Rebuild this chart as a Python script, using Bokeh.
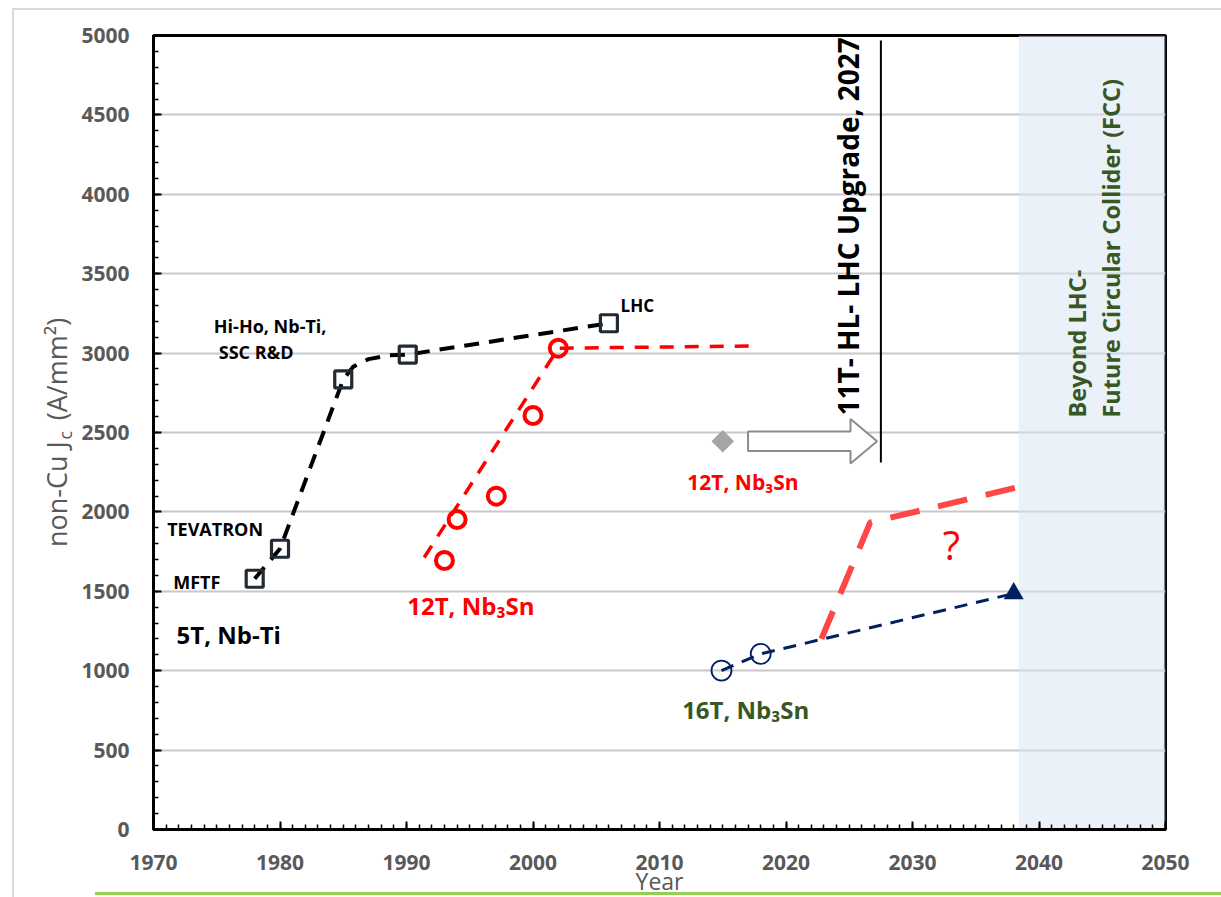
import math
from bokeh.plotting import figure
from bokeh.models import Range1d, SingleIntervalTicker, Label
from bokeh.embed import file_html
from bokeh.resources import INLINE

# ---------------- data ----------------
# Nb-Ti (5 T) magnets
nbti_names = ["MFTF", "TEVATRON", "", "Hi-Ho / SSC R&D", "LHC"]
nbti_years = [1978.0, 1980.0, 1985.0, 1990.1, 2006.0]
nbti_jc = [1579, 1768, 2834, 2991, 3188]
nbti_trend_years = [1978.0, 1980.0, 1985.0, 1985.8, 1987.0, 1988.5, 1990.1, 2006.0]
nbti_trend_jc = [1579, 1768, 2834, 2915, 2962, 2985, 2991, 3188]

# Nb3Sn (12 T) R&D
nb3sn12_years = [1993.0, 1994.0, 1997.1, 2000.0, 2002.0]
nb3sn12_jc = [1694, 1952, 2099, 2607, 3031]
nb3sn12_trend_years = [1991.4, 2002.0, 2017.8]
nb3sn12_trend_jc = [1713, 3031, 3045]

# HL-LHC 11 T point
hl_years = [2015.0]
hl_jc = [2445]

# Nb3Sn (16 T) for FCC
nb3sn16_years = [2014.9, 2018.0]
nb3sn16_jc = [1001, 1106]
fcc_target_years = [2038.0]
fcc_target_jc = [1486]
nb3sn16_trend_years = [2014.9, 2018.0, 2038.0]
nb3sn16_trend_jc = [1001, 1106, 1486]

# speculative future path ("?")
future_years = [2022.8, 2026.65, 2038.3]
future_jc = [1200, 1933, 2155]

# HL-LHC marker line / arrow, FCC band
hl_line_year = [2027.5, 2027.5]
hl_line_jc = [2311, 4969]
arrow_start, arrow_tip, arrow_y = 2017.0, 2027.2, 2445
arrow_head_len, arrow_body_half, arrow_head_half = 2.1, 62, 140
fcc_band_start, fcc_band_end = 2038.4, 2050.0

x_start, x_end, x_major = 1970, 2050, 10
y_start, y_end, y_major = 0, 5000, 500

FONT = "Open Sans"
GRAY = "#595959"
GREEN = "#385723"
NAVY = "#002060"

p = figure(width=1221, height=897,
           x_range=Range1d(x_start, x_end), y_range=Range1d(y_start, y_end),
           output_backend="svg", toolbar_location=None,
           min_border_left=153, min_border_right=56, min_border_top=35, min_border_bottom=68)
p.background_fill_color = "white"
p.border_fill_alpha = 0
p.outline_line_color = "black"
p.outline_line_width = 3
# light gray page frame and green rule of the source document
p.styles = {"box-shadow": "inset 0 8px 0 0 #FFFFFF, inset 12px 0 0 0 #FFFFFF, "
                          "inset 14px 0 0 0 #D9D9D9, inset 0 10px 0 0 #D9D9D9, "
                          "inset 95px 0 0 0 #FFFFFF, inset 0 -2px 0 0 #FFFFFF, "
                          "inset 0 -5px 0 0 #92D050"}

p.xaxis.ticker = SingleIntervalTicker(interval=x_major, num_minor_ticks=10)
p.yaxis.ticker = SingleIntervalTicker(interval=y_major, num_minor_ticks=5)
p.xgrid.visible = False
p.ygrid.grid_line_color = "#C8C8C8"
p.ygrid.grid_line_width = 2

for ax in (p.xaxis[0], p.yaxis[0]):
    ax.axis_line_color = "black"
    ax.axis_line_width = 3
    ax.major_tick_line_color = "black"
    ax.major_tick_line_width = 2
    ax.major_tick_in = 8
    ax.major_tick_out = 0
    ax.minor_tick_line_color = "black"
    ax.minor_tick_line_width = 1.5
    ax.minor_tick_in = 5
    ax.minor_tick_out = 0
    ax.major_label_text_font = FONT
    ax.major_label_text_font_size = "21px"
    ax.major_label_text_font_style = "bold"
    ax.major_label_text_color = GRAY
    ax.axis_label_text_font = FONT
    ax.axis_label_text_font_style = "normal"
    ax.axis_label_text_color = GRAY
p.xaxis.major_label_standoff = 25
p.yaxis.major_label_standoff = 24
p.yaxis.axis_label = "non-Cu J\u00a0\u00a0\u00a0(A/mm\u00b2)"
p.yaxis.axis_label_text_font_size = "27px"
p.yaxis.axis_label_standoff = 3

# FCC band
p.quad(left=[fcc_band_start], right=[fcc_band_end], bottom=[y_start], top=[y_end],
       fill_color="#D8E6F4", fill_alpha=0.55, line_color=None)

# lines
p.line(nbti_trend_years, nbti_trend_jc, line_color="black", line_width=4, line_dash="15 10")
p.line(nb3sn12_trend_years, nb3sn12_trend_jc, line_color="#FF0000", line_width=3.5, line_dash="14 11")
p.line(nb3sn16_trend_years, nb3sn16_trend_jc, line_color=NAVY, line_width=3, line_dash="13 9")
p.line(future_years, future_jc, line_color="#FF4747", line_width=6, line_dash="30 19")
p.line(hl_line_year, hl_line_jc, line_color="black", line_width=2)

# block arrow
hb = arrow_tip - arrow_head_len
ax_pts = [arrow_start, hb, hb, arrow_tip, hb, hb, arrow_start]
ay_pts = [arrow_y + arrow_body_half, arrow_y + arrow_body_half, arrow_y + arrow_head_half, arrow_y,
          arrow_y - arrow_head_half, arrow_y - arrow_body_half, arrow_y - arrow_body_half]
p.patch(ax_pts, ay_pts, fill_color="white", line_color="#8C8C8C", line_width=2)

# markers
p.scatter(nbti_years, nbti_jc, marker="square", size=17, line_color="#222A35", line_width=3.2, fill_color=None)
p.scatter(nb3sn12_years, nb3sn12_jc, marker="circle", size=17, line_color="#FF0000", line_width=4, fill_color=None)
p.scatter(hl_years, hl_jc, marker="square", angle=math.pi / 4, size=16, fill_color="#A5A5A5", line_color=None)
p.scatter(nb3sn16_years, nb3sn16_jc, marker="circle", size=20, line_color=NAVY, line_width=1.8, fill_color=None)
p.scatter(fcc_target_years, fcc_target_jc, marker="triangle", size=20, fill_color=NAVY, line_color=None)


def make_label(text, x, y, size, color="black", style="bold", angle=0.0, align="left"):
    return Label(x=x, y=y, text=text, text_font=FONT, text_font_size=size,
                 text_font_style=style, text_color=color, angle=angle,
                 text_align=align, text_baseline="alphabetic")


def lab(*args, **kw):
    p.add_layout(make_label(*args, **kw))


lab("Hi-Ho, Nb-Ti,", 1974.77, 3170, "18px")
lab("SSC R&D", 1975.16, 3009, "18px")
lab("LHC", 2006.92, 3299, "17px")
lab("TEVATRON", 1971.08, 1892, "18px")
lab("MFTF", 1971.56, 1557, "18px")
lab("5T, Nb-Ti", 1971.82, 1229, "24px")
lab("12T, Nb\u2083Sn", 1990.06, 1412, "24px", color="#FF0000")
lab("12T, Nb\u2083Sn", 2012.19, 2188, "21px", color="#FF0000")
lab("16T, Nb\u2083Sn", 2011.79, 757, "24px", color=GREEN)
lab("?", 2033.08, 1795, "40px", color="#FF0000", style="normal", align="center")
lab("11T- HL- LHC Upgrade, 2027", 2024.93, 2607, "28px", angle=math.pi / 2)
lab("Beyond LHC-", 2043.0, 2594, "23.5px", color=GREEN, angle=math.pi / 2)
lab("Future Circular Collider (FCC)", 2045.66, 2594, "23.5px", color=GREEN, angle=math.pi / 2)

# subscript "c" of J_c, placed in the left side panel (outside the frame)
p.add_layout(make_label("c", 1963.04, 2456, "17.5px", color=GRAY, style="normal",
                        angle=math.pi / 2), "left")
# x-axis title, placed in the (otherwise empty) right side panel but positioned under the axis
p.add_layout(make_label("Year", 2010.0, -322, "23px", color=GRAY, style="normal",
                        align="center"), "right")

open("out.html", "w").write(file_html(p, INLINE))
